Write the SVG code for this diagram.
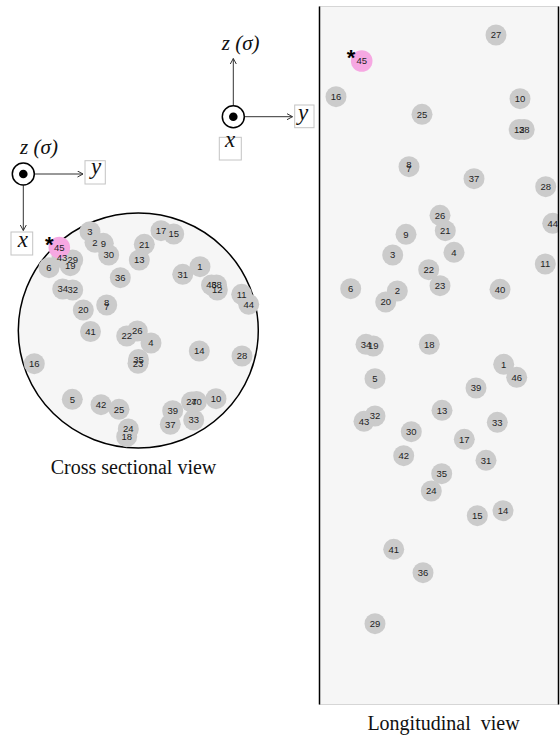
<svg xmlns="http://www.w3.org/2000/svg" width="560" height="736" viewBox="0 0 560 736">
<style>
.bg{fill:#ffffff}
.nd circle{fill:#cbcbcb}
.nd circle.pk{fill:#f6a8e2}
.nd text{font-family:"Liberation Sans",Arial,sans-serif;font-size:9.5px;fill:#1e1e1e;text-anchor:middle}
.star{font-family:"Liberation Sans",Arial,sans-serif;font-size:22px;font-weight:bold;fill:#000;text-anchor:middle}
.ax{font-family:"Liberation Serif","Times New Roman",serif;font-style:italic;fill:#111;text-anchor:middle}
.cap{font-family:"Liberation Serif","Times New Roman",serif;font-size:20px;fill:#111;text-anchor:middle}
.lbox{fill:#fff;stroke:#c4c4c4;stroke-width:1}
.arr{stroke:#333;stroke-width:1;fill:none;marker-end:url(#ah)}
.ring{fill:#fff;stroke:#000;stroke-width:1.5}
</style>
<defs>
<marker id="ah" markerWidth="8" markerHeight="8" refX="6" refY="3.5" orient="auto" markerUnits="userSpaceOnUse">
<path d="M0.5,0.5 L6,3.5 L0.5,6.5" fill="none" stroke="#333" stroke-width="1"/>
</marker>
<clipPath id="pclip"><rect x="319.5" y="6.5" width="239" height="698"/></clipPath>
</defs>
<rect class="bg" x="0" y="0" width="560" height="736"/>

<!-- Cross sectional view -->
<g id="cross-section">
<ellipse cx="138.3" cy="330.5" rx="120" ry="117.5" fill="#f6f6f6" stroke="#000" stroke-width="1.5"/>
<g id="cs-3-2-9-30" class="nd">
<circle cx="90" cy="231.7" r="10.5"/><circle cx="95" cy="242.3" r="10.5"/><circle cx="103.3" cy="243.3" r="10.5"/><circle cx="108.7" cy="255" r="10.5"/>
<text x="90" y="235.1">3</text><text x="95" y="245.7">2</text><text x="103.3" y="246.7">9</text><text x="108.7" y="258.4">30</text>
</g>
<g id="cs-45-43-29-19" class="nd">
<circle cx="62" cy="257.7" r="10.5"/><circle cx="72.7" cy="260" r="10.5"/><circle cx="70.3" cy="265.7" r="10.5"/>
<circle class="pk" cx="59.3" cy="247.5" r="10.8"/>
<text x="59.3" y="250.9">45</text><text x="62" y="261.1">43</text><text x="72.7" y="263.4">29</text><text x="70.3" y="269.1">19</text>
</g>
<g id="cs-6" class="nd"><circle cx="49" cy="267.7" r="10.5"/><text x="49" y="271.1">6</text></g>
<g id="cs-34-32" class="nd"><circle cx="62.7" cy="289" r="10.5"/><circle cx="72.7" cy="290" r="10.5"/><text x="62.7" y="292.4">34</text><text x="72.7" y="293.4">32</text></g>
<g id="cs-36" class="nd"><circle cx="120.3" cy="277.7" r="10.5"/><text x="120.3" y="281.1">36</text></g>
<g id="cs-8-7" class="nd"><circle cx="106.7" cy="305" r="10.5"/><text x="106.7" y="306.4">8</text><text x="106.7" y="310.4">7</text></g>
<g id="cs-20" class="nd"><circle cx="83.3" cy="310" r="10.5"/><text x="83.3" y="313.4">20</text></g>
<g id="cs-41" class="nd"><circle cx="90.5" cy="331.5" r="10.5"/><text x="90.5" y="334.9">41</text></g>
<g id="cs-17-15" class="nd"><circle cx="161" cy="230.7" r="10.5"/><circle cx="173.7" cy="234" r="10.5"/><text x="161" y="234.1">17</text><text x="173.7" y="237.4">15</text></g>
<g id="cs-21" class="nd"><circle cx="144.3" cy="244.3" r="10.5"/><text x="144.3" y="247.7">21</text></g>
<g id="cs-13" class="nd"><circle cx="139.3" cy="260" r="10.5"/><text x="139.3" y="263.4">13</text></g>
<g id="cs-31" class="nd"><circle cx="182.7" cy="274.3" r="10.5"/><text x="182.7" y="277.7">31</text></g>
<g id="cs-1" class="nd"><circle cx="200" cy="266.7" r="10.5"/><text x="200" y="270.1">1</text></g>
<g id="cs-46-38-12" class="nd"><circle cx="211.5" cy="285" r="10.5"/><circle cx="216.5" cy="285" r="10.5"/><circle cx="217.3" cy="290" r="10.5"/>
<text x="211.5" y="288.4">46</text><text x="216.5" y="288.4">38</text><text x="217.3" y="293.4">12</text></g>
<g id="cs-11-44" class="nd"><circle cx="241.7" cy="294.3" r="10.5"/><circle cx="248.7" cy="304.3" r="10.5"/><text x="241.7" y="297.7">11</text><text x="248.7" y="307.7">44</text></g>
<g id="cs-22-26-4" class="nd"><circle cx="126.7" cy="336" r="10.5"/><circle cx="137.3" cy="331" r="10.5"/><circle cx="151" cy="343" r="10.5"/>
<text x="126.7" y="339.4">22</text><text x="137.3" y="334.4">26</text><text x="151" y="346.4">4</text></g>
<g id="cs-35-23" class="nd"><circle cx="138.5" cy="359.5" r="10.5"/><circle cx="138" cy="363.3" r="10.5"/><text x="138.5" y="362.7">35</text><text x="138" y="366.7">23</text></g>
<g id="cs-14" class="nd"><circle cx="199.3" cy="351" r="10.5"/><text x="199.3" y="354.4">14</text></g>
<g id="cs-28" class="nd"><circle cx="242" cy="356" r="10.5"/><text x="242" y="359.4">28</text></g>
<g id="cs-16" class="nd"><circle cx="34.3" cy="363.7" r="10.5"/><text x="34.3" y="367.1">16</text></g>
<g id="cs-5" class="nd"><circle cx="72.3" cy="399.3" r="10.5"/><text x="72.3" y="402.7">5</text></g>
<g id="cs-42" class="nd"><circle cx="101" cy="404.7" r="10.5"/><text x="101" y="408.1">42</text></g>
<g id="cs-25" class="nd"><circle cx="119" cy="409.3" r="10.5"/><text x="119" y="412.7">25</text></g>
<g id="cs-24-18" class="nd"><circle cx="128.3" cy="429" r="10.5"/><circle cx="126.7" cy="436.7" r="10.5"/><text x="128.3" y="432.4">24</text><text x="126.7" y="440.1">18</text></g>
<g id="cs-39-37" class="nd"><circle cx="172.7" cy="410.7" r="10.5"/><circle cx="170.3" cy="424.3" r="10.5"/><text x="172.7" y="414.1">39</text><text x="170.3" y="427.7">37</text></g>
<g id="cs-33" class="nd"><circle cx="193.7" cy="420" r="10.5"/><text x="193.7" y="423.4">33</text></g>
<g id="cs-27-40" class="nd"><circle cx="191.5" cy="402" r="10.5"/><circle cx="196.5" cy="401.5" r="10.5"/><text x="191.5" y="405.4">27</text><text x="196.5" y="404.9">40</text></g>
<g id="cs-10" class="nd"><circle cx="216" cy="398.7" r="10.5"/><text x="216" y="402.1">10</text></g>
<text class="star" x="49.3" y="252">*</text>
<text class="cap" x="133.5" y="473.5">Cross sectional view</text>
</g>

<!-- Longitudinal view -->
<g id="longitudinal">
<rect x="319.5" y="6.5" width="239" height="698" fill="#f6f6f6" stroke="#d6d6d6" stroke-width="1"/>
<g clip-path="url(#pclip)">
<g id="ln-27" class="nd"><circle cx="496" cy="35" r="10.5"/><text x="496" y="38.4">27</text></g>
<g id="ln-45" class="nd"><circle class="pk" cx="361.7" cy="61" r="10.8"/><text x="361.7" y="64.4">45</text></g>
<g id="ln-16" class="nd"><circle cx="336" cy="96.7" r="10.5"/><text x="336" y="100.1">16</text></g>
<g id="ln-10" class="nd"><circle cx="520" cy="98.7" r="10.5"/><text x="520" y="102.1">10</text></g>
<g id="ln-25" class="nd"><circle cx="422" cy="114.3" r="10.5"/><text x="422" y="117.7">25</text></g>
<g id="ln-12-38" class="nd"><circle cx="519.2" cy="129.5" r="10.5"/><circle cx="524.2" cy="129.5" r="10.5"/><text x="519.2" y="132.9">12</text><text x="524.2" y="132.9">38</text></g>
<g id="ln-8-7" class="nd"><circle cx="409" cy="166.7" r="10.5"/><text x="409" y="167.9">8</text><text x="409" y="172.4">7</text></g>
<g id="ln-37" class="nd"><circle cx="474" cy="178.7" r="10.5"/><text x="474" y="182.1">37</text></g>
<g id="ln-28" class="nd"><circle cx="545.7" cy="186.7" r="10.5"/><text x="545.7" y="190.1">28</text></g>
<g id="ln-26" class="nd"><circle cx="440" cy="215.3" r="10.5"/><text x="440" y="218.7">26</text></g>
<g id="ln-21" class="nd"><circle cx="445.3" cy="230.7" r="10.5"/><text x="445.3" y="234.1">21</text></g>
<g id="ln-9" class="nd"><circle cx="406" cy="234.3" r="10.5"/><text x="406" y="237.7">9</text></g>
<g id="ln-44" class="nd"><circle cx="552.7" cy="223.3" r="10.5"/><text x="552.7" y="226.7">44</text></g>
<g id="ln-3" class="nd"><circle cx="392.7" cy="255" r="10.5"/><text x="392.7" y="258.4">3</text></g>
<g id="ln-4" class="nd"><circle cx="454" cy="252.3" r="10.5"/><text x="454" y="255.7">4</text></g>
<g id="ln-11" class="nd"><circle cx="545.3" cy="264" r="10.5"/><text x="545.3" y="267.4">11</text></g>
<g id="ln-22" class="nd"><circle cx="428.7" cy="269.7" r="10.5"/><text x="428.7" y="273.1">22</text></g>
<g id="ln-23" class="nd"><circle cx="440" cy="285.7" r="10.5"/><text x="440" y="289.1">23</text></g>
<g id="ln-6" class="nd"><circle cx="350.7" cy="288.7" r="10.5"/><text x="350.7" y="292.1">6</text></g>
<g id="ln-2-20" class="nd"><circle cx="397.3" cy="291" r="10.5"/><circle cx="385.7" cy="302" r="10.5"/><text x="397.3" y="294.4">2</text><text x="385.7" y="305.4">20</text></g>
<g id="ln-40" class="nd"><circle cx="500" cy="289.3" r="10.5"/><text x="500" y="292.7">40</text></g>
<g id="ln-34-19" class="nd"><circle cx="366" cy="344.3" r="10.5"/><circle cx="373.3" cy="346" r="10.5"/><text x="366" y="347.7">34</text><text x="373.3" y="349.4">19</text></g>
<g id="ln-18" class="nd"><circle cx="429.3" cy="344.3" r="10.5"/><text x="429.3" y="347.7">18</text></g>
<g id="ln-1" class="nd"><circle cx="503.7" cy="364.3" r="10.5"/><text x="503.7" y="367.7">1</text></g>
<g id="ln-46" class="nd"><circle cx="516.7" cy="377.3" r="10.5"/><text x="516.7" y="380.7">46</text></g>
<g id="ln-5" class="nd"><circle cx="375" cy="378.7" r="10.5"/><text x="375" y="382.1">5</text></g>
<g id="ln-39" class="nd"><circle cx="476" cy="388" r="10.5"/><text x="476" y="391.4">39</text></g>
<g id="ln-13" class="nd"><circle cx="442" cy="410.3" r="10.5"/><text x="442" y="413.7">13</text></g>
<g id="ln-43-32" class="nd"><circle cx="375" cy="416" r="10.5"/><circle cx="364" cy="421.3" r="10.5"/><text x="364" y="424.7">43</text><text x="375" y="419.4">32</text></g>
<g id="ln-33" class="nd"><circle cx="497.3" cy="422.3" r="10.5"/><text x="497.3" y="425.7">33</text></g>
<g id="ln-30" class="nd"><circle cx="411.3" cy="431.7" r="10.5"/><text x="411.3" y="435.1">30</text></g>
<g id="ln-17" class="nd"><circle cx="464.3" cy="439.3" r="10.5"/><text x="464.3" y="442.7">17</text></g>
<g id="ln-42" class="nd"><circle cx="403.7" cy="455.7" r="10.5"/><text x="403.7" y="459.1">42</text></g>
<g id="ln-31" class="nd"><circle cx="486" cy="460.3" r="10.5"/><text x="486" y="463.7">31</text></g>
<g id="ln-35" class="nd"><circle cx="441.7" cy="473.7" r="10.5"/><text x="441.7" y="477.1">35</text></g>
<g id="ln-24" class="nd"><circle cx="431.3" cy="491" r="10.5"/><text x="431.3" y="494.4">24</text></g>
<g id="ln-14" class="nd"><circle cx="503" cy="510.7" r="10.5"/><text x="503" y="514.1">14</text></g>
<g id="ln-15" class="nd"><circle cx="477.3" cy="515.7" r="10.5"/><text x="477.3" y="519.1">15</text></g>
<g id="ln-41" class="nd"><circle cx="393.7" cy="549.3" r="10.5"/><text x="393.7" y="552.7">41</text></g>
<g id="ln-36" class="nd"><circle cx="423" cy="572.7" r="10.5"/><text x="423" y="576.1">36</text></g>
<g id="ln-29" class="nd"><circle cx="375" cy="623.7" r="10.5"/><text x="375" y="627.1">29</text></g>
</g>
<line x1="319.5" y1="6.5" x2="319.5" y2="704.5" stroke="#000" stroke-width="1.5"/>
<line x1="558.5" y1="6.5" x2="558.5" y2="704.5" stroke="#000" stroke-width="1.5"/>
<text class="star" x="351" y="65.3">*</text>
<text class="cap" x="443.5" y="730" word-spacing="5">Longitudinal view</text>
</g>

<!-- Axes -->
<g id="connectors">
<line class="arr" x1="233.3" y1="105.5" x2="233.3" y2="58.5"/>
<line class="arr" x1="244.5" y1="116.7" x2="292.5" y2="116.7"/>
<line class="arr" x1="34.5" y1="174" x2="83" y2="174"/>
<line class="arr" x1="23.3" y1="185.2" x2="23.3" y2="230.5"/>
</g>
<g id="axes-right">
<circle class="ring" cx="233.3" cy="116.7" r="11"/>
<circle cx="233.3" cy="116.7" r="4.3" fill="#000"/>
<text class="ax" x="240.7" y="49.5" font-size="21">z (σ)</text>
<rect class="lbox" x="294.7" y="105" width="19.3" height="22.7"/>
<text class="ax" x="303" y="119.5" font-size="23">y</text>
<rect class="lbox" x="219.3" y="137.3" width="22" height="22.7"/>
<text class="ax" x="230" y="146.7" font-size="23">x</text>
</g>
<g id="axes-left">
<circle class="ring" cx="23.3" cy="174" r="11"/>
<circle cx="23.3" cy="174" r="4.3" fill="#000"/>
<text class="ax" x="39" y="153.5" font-size="21">z (σ)</text>
<rect class="lbox" x="85" y="160.7" width="20.3" height="23.3"/>
<text class="ax" x="96" y="173.5" font-size="23">y</text>
<rect class="lbox" x="11" y="232" width="21.7" height="23"/>
<text class="ax" x="22.8" y="246.5" font-size="23">x</text>
</g>
</svg>
